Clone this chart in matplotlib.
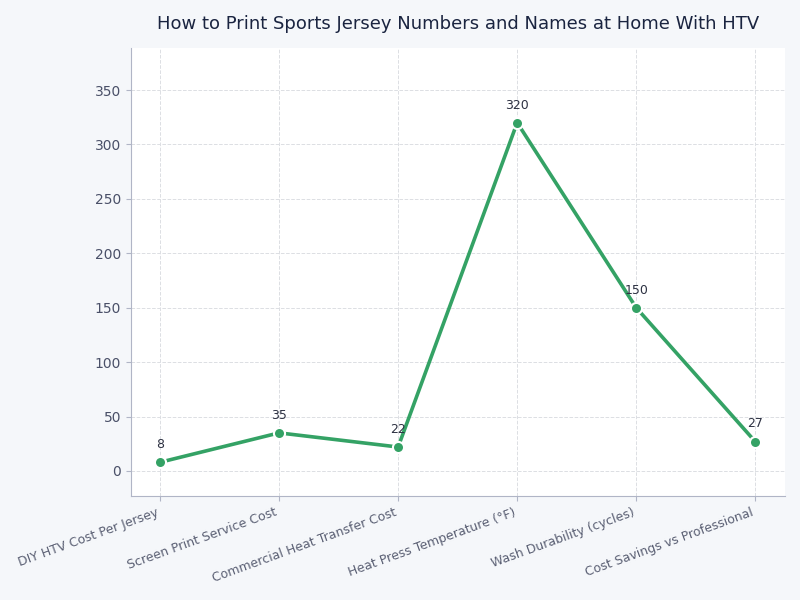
import matplotlib
matplotlib.use("Agg")
import matplotlib.pyplot as plt

categories = ["DIY HTV Cost Per Jersey", "Screen Print Service Cost",
              "Commercial Heat Transfer Cost", "Heat Press Temperature (°F)",
              "Wash Durability (cycles)", "Cost Savings vs Professional"]
values = [8, 35, 22, 320, 150, 27]

fig = plt.figure(figsize=(8, 6), dpi=100, facecolor="#f5f7fa")
ax = fig.add_axes([131/800, 1-496/600, (785-131)/800, (496-48)/600])
ax.set_facecolor("white")

x = list(range(len(categories)))
ax.plot(x, values, color="#34a265", linewidth=2.6, marker="o", markersize=8,
        markerfacecolor="#34a265", markeredgecolor="white", markeredgewidth=1.5, zorder=3)
for xi, v in zip(x, values):
    ax.annotate(str(v), (xi, v), textcoords="offset points", xytext=(0, 8),
                ha="center", va="bottom", fontsize=9, color="#2d3142")

ax.set_xlim(-0.244, 5.25)
ax.set_ylim(-23, 388.6)
ax.set_xticks(x)
ax.set_xticklabels(categories, rotation=20, ha="right", fontsize=9, color="#5a5f73")
ax.set_yticks([0, 50, 100, 150, 200, 250, 300, 350])
ax.tick_params(axis="y", labelsize=10, colors="#4a5068")
ax.tick_params(axis="x", colors="#5a5f73")
for t in ax.get_yticklabels():
    t.set_color("#4a5068")
ax.grid(True, linestyle="--", color="#dcdee3", linewidth=0.7)
ax.set_axisbelow(True)
for s in ["top", "right"]:
    ax.spines[s].set_visible(False)
for s in ["left", "bottom"]:
    ax.spines[s].set_color("#b0b5c6")
ax.tick_params(color="#b0b5c6")

fig.text((131+785)/2/800, 1-24/600, "How to Print Sports Jersey Numbers and Names at Home With HTV",
         ha="center", va="center", fontsize=13, color="#1a2440")

fig.savefig("out.png", dpi=100, facecolor=fig.get_facecolor())
